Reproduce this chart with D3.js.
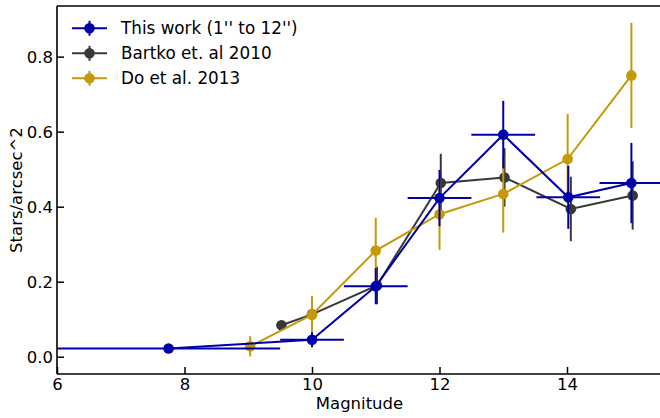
<!DOCTYPE html>
<html>
<head>
<meta charset="utf-8">
<script src="https://cdn.jsdelivr.net/npm/d3@7"></script>
<style>
  body { margin: 0; background: #fff; }
  svg { display: block; font-family: "DejaVu Sans", sans-serif; }
</style>
</head>
<body>
<svg id="chart" width="660" height="418"></svg>
<script>
// This work (1" to 12")
let workMag = [7.75, 10, 11, 12, 13, 14.02, 15.01];
let workVal = [0.022, 0.045, 0.188, 0.423, 0.592, 0.425, 0.463];
let workYerr = [0.006, 0.02, 0.048, 0.075, 0.09, 0.084, 0.107];
let workXerr = [1.75, 0.5, 0.5, 0.5, 0.5, 0.5, 0.5];

// Bartko et. al 2010
let bartkoMag = [9.52, 10, 11.02, 12.02, 13.02, 14.06, 15.03];
let bartkoVal = [0.084, 0.113, 0.19, 0.463, 0.478, 0.394, 0.43];
let bartkoYerr = [0.013, 0.02, 0.05, 0.078, 0.078, 0.086, 0.091];

// Do et al. 2013
let doMag = [9.03, 10, 11, 12, 13, 14.01, 15.01];
let doVal = [0.028, 0.112, 0.283, 0.38, 0.434, 0.527, 0.75];
let doYerr = [0.027, 0.05, 0.087, 0.095, 0.103, 0.12, 0.14];

let xTicks = [6, 8, 10, 12, 14];
let yTicks = [0.0, 0.2, 0.4, 0.6, 0.8];

let blue = "#0000aa";
let gray = "#383838";
let gold = "#c49a0a";

(function () {
  let svg = d3.select("#chart");
  let mLeft = 57, mTop = 6, mBottom = 374;
  let x = d3.scaleLinear().domain([6, 15.5]).range([mLeft, mLeft + 9.5 * 63.75]);
  let y = d3.scaleLinear().domain([-0.046, 0.935]).range([mBottom, mTop]);

  function toRows(mag, val, yerr, xerr) {
    return mag.map((m, i) => ({ x: m, y: val[i], ye: yerr[i], xe: xerr ? xerr[i] : 0 }));
  }

  let series = [
    { name: "Bartko et. al 2010", color: gray, rows: toRows(bartkoMag, bartkoVal, bartkoYerr) },
    { name: "Do et al. 2013", color: gold, rows: toRows(doMag, doVal, doYerr) },
    { name: "This work (1'' to 12'')", color: blue, rows: toRows(workMag, workVal, workYerr, workXerr) }
  ];

  svg.append("clipPath").attr("id", "plot")
    .append("rect").attr("x", mLeft).attr("y", mTop).attr("width", 660 - mLeft).attr("height", mBottom - mTop);

  let plot = svg.append("g").attr("clip-path", "url(#plot)");
  let line = d3.line().x((d) => x(d.x)).y((d) => y(d.y));

  for (const s of series) {
    let g = plot.append("g").attr("stroke", s.color).attr("stroke-width", 2).attr("fill", "none");
    g.append("path").attr("d", line(s.rows));
    g.selectAll(".ey").data(s.rows).join("line").attr("class", "ey")
      .attr("x1", (d) => x(d.x)).attr("x2", (d) => x(d.x))
      .attr("y1", (d) => y(d.y - d.ye)).attr("y2", (d) => y(d.y + d.ye));
    g.selectAll(".ex").data(s.rows.filter((d) => d.xe > 0)).join("line").attr("class", "ex")
      .attr("x1", (d) => x(d.x - d.xe)).attr("x2", (d) => x(d.x + d.xe))
      .attr("y1", (d) => y(d.y)).attr("y2", (d) => y(d.y));
    g.selectAll("circle").data(s.rows).join("circle")
      .attr("cx", (d) => x(d.x)).attr("cy", (d) => y(d.y)).attr("r", 5.3)
      .attr("fill", s.color).attr("stroke", "none");
  }

  // spines
  let frame = svg.append("g").attr("stroke", "#000").attr("stroke-width", 1.6);
  frame.append("line").attr("x1", mLeft).attr("x2", mLeft).attr("y1", mTop).attr("y2", mBottom);
  frame.append("line").attr("x1", mLeft).attr("x2", 662).attr("y1", mBottom).attr("y2", mBottom);
  frame.append("line").attr("x1", mLeft).attr("x2", 662).attr("y1", mTop).attr("y2", mTop);

  // inward ticks
  let xAxis = svg.append("g").attr("transform", `translate(0,${mBottom})`)
    .call(d3.axisBottom(x).tickValues(xTicks).tickSizeInner(-7).tickSizeOuter(0).tickPadding(4).tickFormat(d3.format("d")));
  let yAxis = svg.append("g").attr("transform", `translate(${mLeft},0)`)
    .call(d3.axisLeft(y).tickValues(yTicks).tickSizeInner(-7).tickSizeOuter(0).tickPadding(4).tickFormat(d3.format(".1f")));
  for (const a of [xAxis, yAxis]) {
    a.select(".domain").remove();
    a.selectAll(".tick line").attr("stroke", "#000").attr("stroke-width", 1.5);
    a.selectAll(".tick text").attr("fill", "#000").attr("font-size", 16.5)
      .attr("font-family", "DejaVu Sans, sans-serif");
  }
  yAxis.selectAll(".tick text").attr("dy", "0.36em");

  svg.append("text").attr("x", (mLeft + 662) / 2).attr("y", 409)
    .attr("text-anchor", "middle").attr("font-size", 16.5).text("Magnitude");
  svg.append("text").attr("transform", `translate(22,${(mTop + mBottom) / 2}) rotate(-90)`)
    .attr("text-anchor", "middle").attr("font-size", 16.5).text("Stars/arcsec^2");

  // legend
  let legendOrder = [series[2], series[0], series[1]];
  let legend = svg.append("g").selectAll("g").data(legendOrder).join("g")
    .attr("transform", (d, i) => `translate(0,${28.3 + i * 25})`);
  legend.append("line").attr("x1", 72).attr("x2", 107).attr("stroke", (d) => d.color).attr("stroke-width", 2);
  legend.append("line").attr("x1", 89.5).attr("x2", 89.5).attr("y1", -7.5).attr("y2", 7.5)
    .attr("stroke", (d) => d.color).attr("stroke-width", 2);
  legend.append("circle").attr("cx", 89.5).attr("r", 5.3).attr("fill", (d) => d.color);
  legend.append("text").attr("x", 121).attr("dy", "0.36em").attr("font-size", 16.8).text((d) => d.name);
})();
</script>
</body>
</html>
